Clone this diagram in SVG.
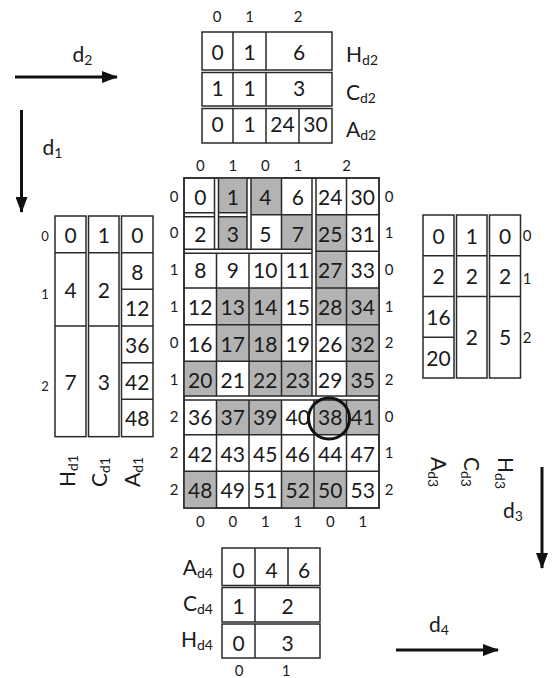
<svg xmlns="http://www.w3.org/2000/svg" width="558" height="678" viewBox="0 0 558 678">
<defs>
<marker id="ah" markerUnits="userSpaceOnUse" markerWidth="16" markerHeight="12" viewBox="0 0 16 12" refX="15" refY="6" orient="auto"><path d="M0,0 L16,6 L0,12 z" fill="#111"/></marker>
</defs>
<style>
text{font-family:Lato,"Liberation Sans",sans-serif;fill:#1a1a1a}
.n{font-size:21px;text-anchor:middle}
.i{font-size:15px;text-anchor:middle}
.sm{font-size:13px;text-anchor:middle}
.sub{font-size:14px}
.lbl{font-size:21px}
.box{fill:#fff;stroke:#2a2a2a;stroke-width:1.5}
.ln{fill:none;stroke:#2a2a2a;stroke-width:1.5}
.g{fill:#b3b3b3}
.gap{fill:#fff}
.arr{stroke:#111;stroke-width:3;fill:none;marker-end:url(#ah)}
</style>
<rect width="558" height="678" fill="#fff"/>

<g id="connectors">
<line class="arr" x1="15" y1="77" x2="117" y2="77"/>
<line class="arr" x1="21.5" y1="110" x2="21.5" y2="212"/>
<line class="arr" x1="542" y1="467" x2="542" y2="568"/>
<line class="arr" x1="396" y1="650" x2="498" y2="650"/>
<text class="lbl" x="72.5" y="62">d<tspan class="sub" dy="3">2</tspan></text>
<text class="lbl" x="42.5" y="155">d<tspan class="sub" dy="3">1</tspan></text>
<text class="lbl" x="503" y="518">d<tspan class="sub" dy="3">3</tspan></text>
<text class="lbl" x="429" y="632">d<tspan class="sub" dy="3">4</tspan></text>
</g>

<g id="table-d2">
<rect class="box" x="202" y="32" width="130" height="38"/>
<rect class="box" x="202" y="72.5" width="130" height="33.5"/>
<rect class="box" x="202" y="108.5" width="130" height="34.5"/>
<path class="ln" d="M233 32V70 M266 32V70 M233 72.5V106 M266 72.5V106 M233 108.5V143 M266 108.5V143 M299 108.5V143"/>
<text class="i" x="217" y="22">0</text>
<text class="i" x="249.5" y="22">1</text>
<text class="i" x="298" y="22">2</text>
<text class="n" x="217.5" y="59.5">0</text>
<text class="n" x="249.5" y="59.5">1</text>
<text class="n" x="299" y="59.5">6</text>
<text class="n" x="217.5" y="96">1</text>
<text class="n" x="249.5" y="96">1</text>
<text class="n" x="299" y="96">3</text>
<text class="n" x="217.5" y="131.5">0</text>
<text class="n" x="249.5" y="131.5">1</text>
<text class="n" x="282.5" y="131.5">24</text>
<text class="n" x="315.5" y="131.5">30</text>
<text class="lbl" x="346" y="61.5">H<tspan class="sub" dy="3">d2</tspan></text>
<text class="lbl" x="346" y="99.5">C<tspan class="sub" dy="3">d2</tspan></text>
<text class="lbl" x="346" y="136.5">A<tspan class="sub" dy="3">d2</tspan></text>
</g>

<g id="table-d1">
<rect class="box" x="55" y="216" width="31" height="220.67"/>
<rect class="box" x="88.5" y="216" width="30.5" height="220.67"/>
<rect class="box" x="121.5" y="216" width="31.5" height="220.67"/>
<path class="ln" d="M55 252.67H86 M55 326H86 M88.5 252.67H119 M88.5 326H119 M121.5 252.67H153 M121.5 289.33H153 M121.5 326H153 M121.5 362.67H153 M121.5 399.33H153"/>
<text class="sm" x="45" y="240.5">0</text>
<text class="sm" x="45" y="298.5">1</text>
<text class="sm" x="45" y="390.5">2</text>
<text class="n" x="70.5" y="243">0</text>
<text class="n" x="70.5" y="298">4</text>
<text class="n" x="70.5" y="390">7</text>
<text class="n" x="103.75" y="243">1</text>
<text class="n" x="103.75" y="298">2</text>
<text class="n" x="103.75" y="390">3</text>
<text class="n" x="137.25" y="242.5">0</text>
<text class="n" x="137.25" y="279.5">8</text>
<text class="n" x="137.25" y="316">12</text>
<text class="n" x="137.25" y="352.5">36</text>
<text class="n" x="137.25" y="389.5">42</text>
<text class="n" x="137.25" y="426">48</text>
<text class="lbl" transform="translate(75,487) rotate(-90)">H<tspan class="sub" dy="3">d1</tspan></text>
<text class="lbl" transform="translate(106.5,487) rotate(-90)">C<tspan class="sub" dy="3">d1</tspan></text>
<text class="lbl" transform="translate(140,487) rotate(-90)">A<tspan class="sub" dy="3">d1</tspan></text>
</g>

<g id="table-d3">
<rect class="box" x="423" y="215" width="31" height="163"/>
<rect class="box" x="456.5" y="215" width="30.5" height="163"/>
<rect class="box" x="489.5" y="215" width="31" height="163"/>
<path class="ln" d="M423 255.75H454 M423 296.5H454 M423 337.25H454 M456.5 255.75H487 M456.5 296.5H487 M489.5 255.75H520.5 M489.5 296.5H520.5"/>
<text class="n" x="438.5" y="243.5">0</text>
<text class="n" x="438.5" y="284">2</text>
<text class="n" x="438.5" y="325">16</text>
<text class="n" x="438.5" y="365.5">20</text>
<text class="n" x="471.75" y="243.5">1</text>
<text class="n" x="471.75" y="284">2</text>
<text class="n" x="471.75" y="345">2</text>
<text class="n" x="505" y="243.5">0</text>
<text class="n" x="505" y="284">2</text>
<text class="n" x="505" y="345">5</text>
<text class="i" x="527" y="241">0</text>
<text class="i" x="527" y="284">1</text>
<text class="i" x="527" y="343">2</text>
<text class="lbl" transform="translate(431,457) rotate(90)">A<tspan class="sub" dy="3">d3</tspan></text>
<text class="lbl" transform="translate(464,457) rotate(90)">C<tspan class="sub" dy="3">d3</tspan></text>
<text class="lbl" transform="translate(497.5,457) rotate(90)">H<tspan class="sub" dy="3">d3</tspan></text>
</g>

<g id="table-d4">
<rect class="box" x="222" y="548" width="98" height="37.5"/>
<rect class="box" x="222" y="587.5" width="98" height="34.5"/>
<rect class="box" x="222" y="624" width="98" height="34"/>
<path class="ln" d="M255 548V585.5 M288 548V585.5 M255 587.5V622 M255 624V658"/>
<text class="n" x="238.5" y="577.5">0</text>
<text class="n" x="271.5" y="577.5">4</text>
<text class="n" x="304" y="577.5">6</text>
<text class="n" x="238.5" y="614">1</text>
<text class="n" x="287.5" y="614">2</text>
<text class="n" x="238.5" y="650.5">0</text>
<text class="n" x="287.5" y="650.5">3</text>
<text class="lbl" x="213" y="575" text-anchor="end">A<tspan class="sub" dy="3">d4</tspan></text>
<text class="lbl" x="213" y="611" text-anchor="end">C<tspan class="sub" dy="3">d4</tspan></text>
<text class="lbl" x="213" y="647" text-anchor="end">H<tspan class="sub" dy="3">d4</tspan></text>
<text class="i" x="239" y="676">0</text>
<text class="i" x="286" y="676">1</text>
</g>

<g id="main-grid">
<rect class="box" x="184" y="178" width="195" height="330"/>
<g class="g">
<rect x="216.5" y="178" width="32.5" height="36.67"/>
<rect x="249" y="178" width="32.5" height="36.67"/>
<rect x="216.5" y="214.67" width="32.5" height="36.67"/>
<rect x="281.5" y="214.67" width="32.5" height="36.67"/>
<rect x="314" y="214.67" width="32.5" height="36.67"/>
<rect x="314" y="251.33" width="32.5" height="36.67"/>
<rect x="216.5" y="288" width="32.5" height="36.67"/>
<rect x="249" y="288" width="32.5" height="36.67"/>
<rect x="314" y="288" width="32.5" height="36.67"/>
<rect x="346.5" y="288" width="32.5" height="36.67"/>
<rect x="216.5" y="324.67" width="32.5" height="36.67"/>
<rect x="249" y="324.67" width="32.5" height="36.67"/>
<rect x="346.5" y="324.67" width="32.5" height="36.67"/>
<rect x="184" y="361.33" width="32.5" height="36.67"/>
<rect x="249" y="361.33" width="32.5" height="36.67"/>
<rect x="281.5" y="361.33" width="32.5" height="36.67"/>
<rect x="346.5" y="361.33" width="32.5" height="36.67"/>
<rect x="216.5" y="398" width="32.5" height="36.67"/>
<rect x="249" y="398" width="32.5" height="36.67"/>
<rect x="314" y="398" width="32.5" height="36.67"/>
<rect x="346.5" y="398" width="32.5" height="36.67"/>
<rect x="184" y="471.33" width="32.5" height="36.67"/>
<rect x="281.5" y="471.33" width="32.5" height="36.67"/>
<rect x="314" y="471.33" width="32.5" height="36.67"/>
</g>
<path class="ln" d="M216.5 178V508 M249 178V508 M281.5 178V508 M314 178V508 M346.5 178V508 M184 214.67H379 M184 251.33H379 M184 288H379 M184 324.67H379 M184 361.33H379 M184 398H379 M184 434.67H379 M184 471.33H379"/>
<g class="gap">
<rect x="312" y="179" width="4" height="217"/>
<rect x="185" y="396" width="193" height="4"/>
<rect x="185" y="249.33" width="127" height="4"/>
<rect x="214.5" y="179" width="4" height="70.33"/>
<rect x="247" y="179" width="4" height="70.33"/>
<rect x="185" y="212.67" width="29.5" height="4"/>
<rect x="218.5" y="212.67" width="28.5" height="4"/>
</g>
<path class="ln" d="M312 178V396 M316 178V396 M184 396H379 M184 400H379 M184 249.33H312 M184 253.33H312 M214.5 178V249.33 M218.5 178V249.33 M247 178V249.33 M251 178V249.33 M184 212.67H214.5 M218.5 212.67H247 M184 216.67H214.5 M218.5 216.67H247"/>
<rect x="184" y="178" width="195" height="330" fill="none" stroke="#2a2a2a" stroke-width="1.5"/>

<g class="i">
<text x="200.25" y="170.5">0</text><text x="232.75" y="170.5">1</text><text x="265.25" y="170.5">0</text><text x="297.75" y="170.5">1</text><text x="346.5" y="170.5">2</text>
<text x="200.25" y="527">0</text><text x="232.75" y="527">0</text><text x="265.25" y="527">1</text><text x="297.75" y="527">1</text><text x="330.25" y="527">0</text><text x="362.75" y="527">1</text>
<text x="174" y="201.7">0</text><text x="174" y="238.4">0</text><text x="174" y="275.1">1</text><text x="174" y="311.7">1</text><text x="174" y="348.4">0</text><text x="174" y="385.1">1</text><text x="174" y="421.7">2</text><text x="174" y="458.4">2</text><text x="174" y="495.1">2</text>
<text x="389" y="201.7">0</text><text x="389" y="238.4">1</text><text x="389" y="275.1">0</text><text x="389" y="311.7">1</text><text x="389" y="348.4">2</text><text x="389" y="385.1">2</text><text x="389" y="421.7">0</text><text x="389" y="458.4">1</text><text x="389" y="495.1">2</text>
</g>

<g class="n">
<text x="200.25" y="204.8">0</text><text x="232.75" y="204.8">1</text><text x="265.25" y="204.8">4</text><text x="297.75" y="204.8">6</text><text x="330.25" y="204.8">24</text><text x="362.75" y="204.8">30</text>
<text x="200.25" y="241.5">2</text><text x="232.75" y="241.5">3</text><text x="265.25" y="241.5">5</text><text x="297.75" y="241.5">7</text><text x="330.25" y="241.5">25</text><text x="362.75" y="241.5">31</text>
<text x="200.25" y="278.2">8</text><text x="232.75" y="278.2">9</text><text x="265.25" y="278.2">10</text><text x="297.75" y="278.2">11</text><text x="330.25" y="278.2">27</text><text x="362.75" y="278.2">33</text>
<text x="200.25" y="314.8">12</text><text x="232.75" y="314.8">13</text><text x="265.25" y="314.8">14</text><text x="297.75" y="314.8">15</text><text x="330.25" y="314.8">28</text><text x="362.75" y="314.8">34</text>
<text x="200.25" y="351.5">16</text><text x="232.75" y="351.5">17</text><text x="265.25" y="351.5">18</text><text x="297.75" y="351.5">19</text><text x="330.25" y="351.5">26</text><text x="362.75" y="351.5">32</text>
<text x="200.25" y="388.2">20</text><text x="232.75" y="388.2">21</text><text x="265.25" y="388.2">22</text><text x="297.75" y="388.2">23</text><text x="330.25" y="388.2">29</text><text x="362.75" y="388.2">35</text>
<text x="200.25" y="424.8">36</text><text x="232.75" y="424.8">37</text><text x="265.25" y="424.8">39</text><text x="297.75" y="424.8">40</text><text x="330.25" y="424.8">38</text><text x="362.75" y="424.8">41</text>
<text x="200.25" y="461.5">42</text><text x="232.75" y="461.5">43</text><text x="265.25" y="461.5">45</text><text x="297.75" y="461.5">46</text><text x="330.25" y="461.5">44</text><text x="362.75" y="461.5">47</text>
<text x="200.25" y="498.2">48</text><text x="232.75" y="498.2">49</text><text x="265.25" y="498.2">51</text><text x="297.75" y="498.2">52</text><text x="330.25" y="498.2">50</text><text x="362.75" y="498.2">53</text>
</g>
<circle cx="329" cy="418.5" r="20.5" fill="none" stroke="#111" stroke-width="3"/>
</g>
</svg>
